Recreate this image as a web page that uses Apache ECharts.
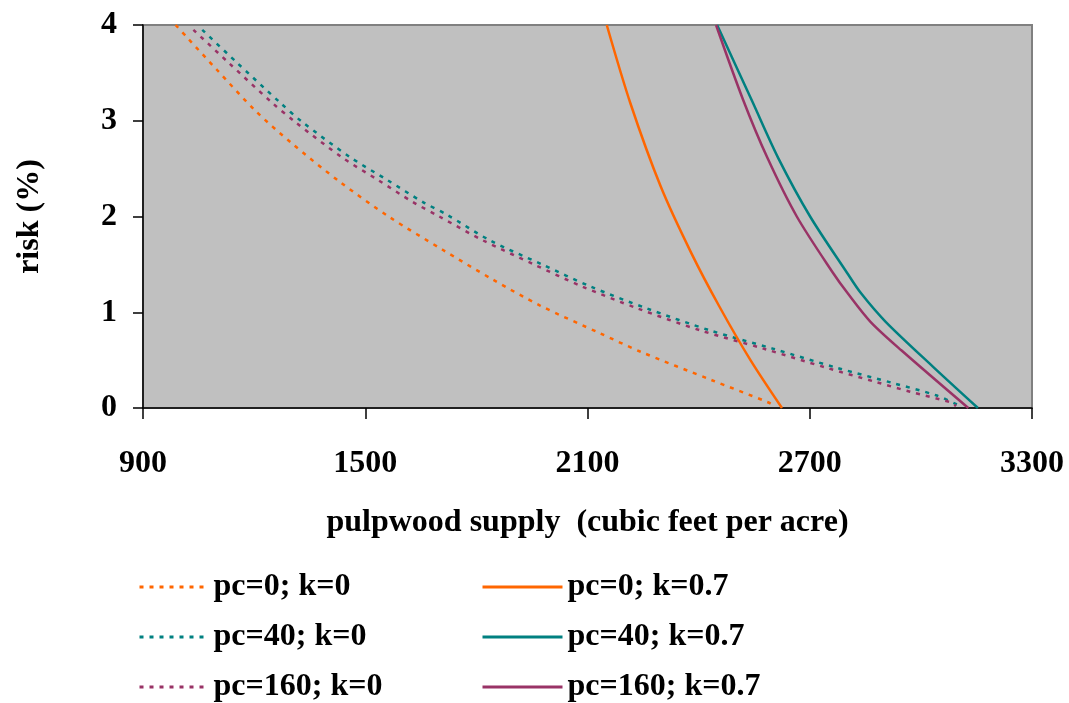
<!DOCTYPE html>
<html>
<head>
<meta charset="utf-8">
<script src="https://cdn.jsdelivr.net/npm/echarts@6/dist/echarts.min.js"></script>
<style>
  html, body { margin: 0; padding: 0; background: #ffffff; }
  #chart { width: 1069px; height: 703px; }
</style>
</head>
<body>
<div id="chart"></div>
<script>
// Pulpwood supply (cubic feet per acre) versus risk (%), pairs of [supply, risk]
const pc0k0 = [[988, 4.0], [1019, 3.87], [1100, 3.53], [1202, 3.11], [1300, 2.77], [1432, 2.36],
  [1567, 1.99], [1710, 1.65], [1845, 1.34], [1972, 1.07], [2134, 0.78], [2242, 0.59],
  [2436, 0.29], [2587, 0.06], [2605, 0.02]];
const pc40k0 = [[1060, 3.95], [1150, 3.62], [1270, 3.19], [1329, 2.99], [1459, 2.62], [1560, 2.38],
  [1656, 2.15], [1720, 2.02], [1837, 1.75], [1977, 1.50], [2107, 1.27], [2260, 1.04],
  [2431, 0.81], [2600, 0.62], [2773, 0.42], [2925, 0.26], [3043, 0.13], [3106, 0.02]];
const pc160k0 = [[1036, 3.95], [1130, 3.61], [1248, 3.19], [1310, 2.99], [1440, 2.61], [1535, 2.38],
  [1629, 2.15], [1700, 2.0], [1818, 1.75], [1955, 1.50], [2085, 1.27], [2235, 1.04],
  [2405, 0.81], [2575, 0.62], [2745, 0.42], [2880, 0.27], [2971, 0.17], [3079, 0.06], [3095, 0.02]];
const pc0k07 = [[2152, 4.0], [2216, 3.18], [2298, 2.31], [2380, 1.62], [2456, 1.06], [2540, 0.50], [2625, 0.0]];
const pc40k07 = [[2450, 4.0], [2545, 3.2], [2615, 2.61], [2701, 2.0], [2801, 1.41], [2838, 1.2], [2905, 0.9], [3033, 0.43], [3154, 0.0]];
const pc160k07 = [[2447, 4.0], [2520, 3.22], [2586, 2.61], [2665, 2.0], [2763, 1.41], [2802, 1.2], [2864, 0.9], [2948, 0.6], [3128, 0.0]];

const seriesNames = ['pc=0; k=0', 'pc=40; k=0', 'pc=160; k=0', 'pc=0; k=0.7', 'pc=40; k=0.7', 'pc=160; k=0.7'];
const seriesData = [pc0k0, pc40k0, pc160k0, pc0k07, pc40k07, pc160k07];
const seriesColors = ['#FF6600', '#008080', '#993366', '#FF6600', '#008080', '#993366'];
const dashedFlags = [true, true, true, false, false, false];

const xTicks = { min: 900, max: 3300, step: 600 };
const yTicks = { min: 0, max: 4, step: 1 };

const FONT = "'Liberation Serif', 'Times New Roman', serif";

const chart = echarts.init(document.getElementById('chart'), null, { renderer: 'canvas' });

const series = seriesNames.map((name, i) => ({
  name: name,
  type: 'line',
  data: seriesData[i],
  smooth: 0.3,
  symbol: 'none',
  z: dashedFlags[i] ? 3 : 4,
  lineStyle: {
    color: seriesColors[i],
    width: 2.5,
    type: dashedFlags[i] ? [4, 6] : 'solid'
  },
  itemStyle: { color: seriesColors[i] }
}));

const legendText = { fontFamily: FONT, fontWeight: 'bold', fontSize: 32, color: '#000' };

// one legend entry per slot: two columns (k=0 dashed, k=0.7 solid), three rows
const legendRows = [571, 621, 671];
const legends = seriesNames.map((name, i) => ({
  data: [name],
  orient: 'horizontal',
  left: i < 3 ? 138 : 481,
  top: legendRows[i % 3],
  padding: 0,
  itemWidth: i < 3 ? 69 : 80,
  itemHeight: 14,
  itemStyle: { opacity: 0 },
  lineStyle: { width: 3 },
  textStyle: legendText,
  selectedMode: false
}));

chart.setOption({
  animation: false,
  backgroundColor: '#ffffff',
  grid: {
    left: 143, right: 37, top: 25, bottom: 295,
    outerBoundsMode: 'none',
    containLabel: false,
    show: true,
    backgroundColor: '#C0C0C0',
    borderColor: '#808080',
    borderWidth: 2
  },
  xAxis: {
    type: 'value',
    min: xTicks.min, max: xTicks.max, interval: xTicks.step,
    name: 'pulpwood supply  (cubic feet per acre)',
    nameLocation: 'middle',
    nameGap: 99,
    nameTextStyle: { fontFamily: FONT, fontWeight: 'bold', fontSize: 32, color: '#000' },
    axisLine: { show: true, lineStyle: { color: '#000', width: 1.5 } },
    axisTick: { show: true, inside: false, length: 11, lineStyle: { color: '#000', width: 1.5 } },
    axisLabel: { fontFamily: FONT, fontWeight: 'bold', fontSize: 32, color: '#000', margin: 40,
      formatter: v => String(v) },
    splitLine: { show: false }
  },
  yAxis: {
    type: 'value',
    min: yTicks.min, max: yTicks.max, interval: yTicks.step,
    name: 'risk (%)',
    nameLocation: 'middle',
    nameGap: 97,
    nameRotate: 90,
    nameTextStyle: { fontFamily: FONT, fontWeight: 'bold', fontSize: 32, color: '#000' },
    axisLine: { show: true, lineStyle: { color: '#000', width: 1.5 } },
    axisTick: { show: true, inside: false, length: 10, lineStyle: { color: '#000', width: 1.5 } },
    axisLabel: { fontFamily: FONT, fontWeight: 'bold', fontSize: 32, color: '#000', margin: 26,
      formatter: v => String(v) },
    splitLine: { show: false }
  },
  legend: legends,
  series: series
});
</script>
</body>
</html>
